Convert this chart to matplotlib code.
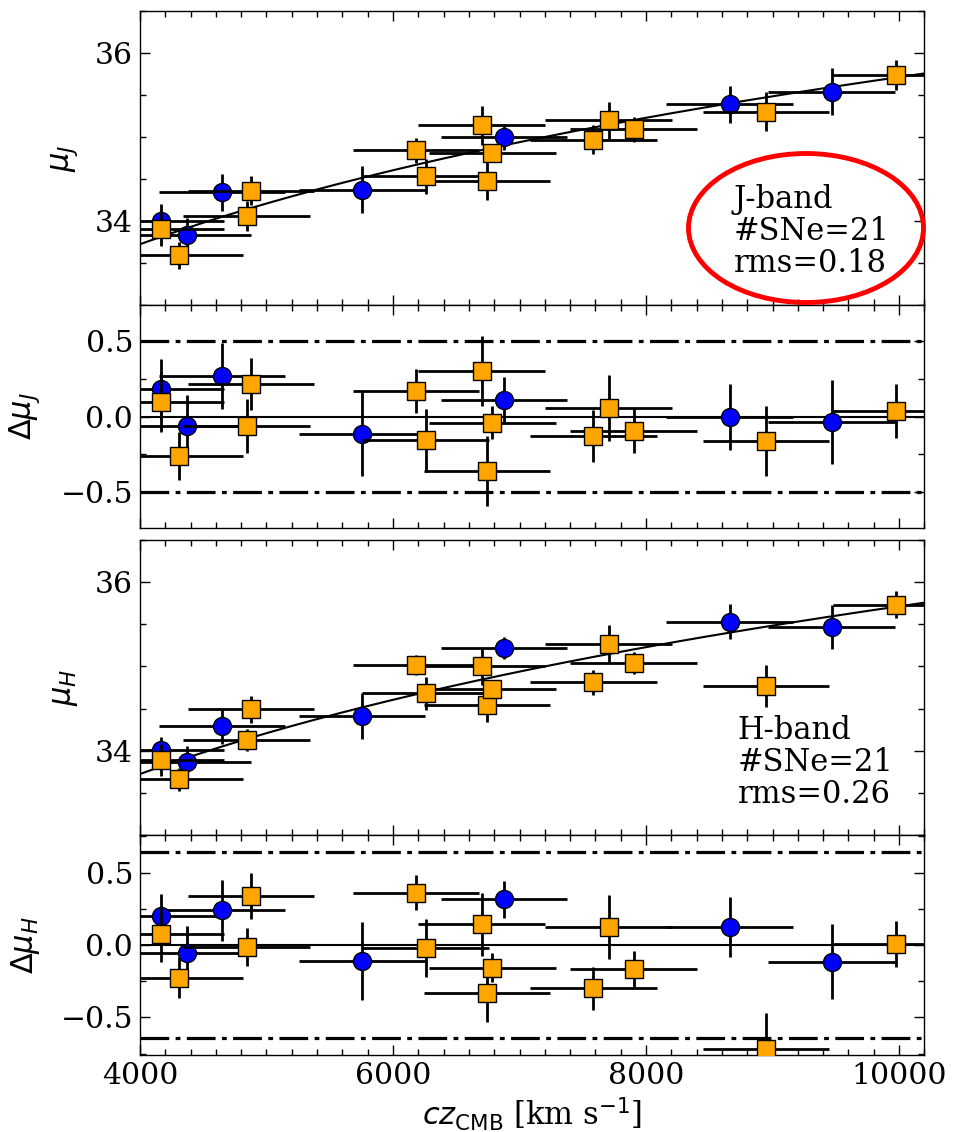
import numpy as np
import matplotlib
matplotlib.use('Agg')
import matplotlib.pyplot as plt
from matplotlib.patches import Ellipse
from matplotlib.ticker import MultipleLocator

# --- data ---
# group 1 (blue circles)
cz_blue = [4166, 4374, 4648, 5755, 6877, 8662, 9468]
muJ_blue = [34.00, 33.83, 34.34, 34.37, 35.00, 35.39, 35.54]
dJ_blue = [0.18, -0.066, 0.27, -0.118, 0.112, -0.004, -0.037]
eJ_blue = [0.20, 0.21, 0.22, 0.28, 0.15, 0.22, 0.28]
muH_blue = [34.01, 33.87, 34.29, 34.41, 35.22, 35.53, 35.47]
dH_blue = [0.20, -0.057, 0.239, -0.11, 0.315, 0.124, -0.115]
eH_blue = [0.15, 0.19, 0.21, 0.27, 0.13, 0.21, 0.26]

# group 2 (orange squares)
cz_orange = [4166, 4311, 4843, 4877, 6182, 6258, 6701, 6743, 6785, 7584, 7705, 7903, 8949, 9976]
muJ_orange = [33.90, 33.59, 34.06, 34.36, 34.84, 34.53, 35.14, 34.48, 34.81, 34.97, 35.20, 35.09, 35.30, 35.74]
dJ_orange = [0.094, -0.263, -0.061, 0.215, 0.171, -0.158, 0.303, -0.362, -0.04, -0.129, 0.055, -0.094, -0.162, 0.039]
eJ_orange = [0.20, 0.16, 0.18, 0.17, 0.145, 0.21, 0.23, 0.23, 0.11, 0.175, 0.22, 0.15, 0.23, 0.18]
muH_orange = [33.89, 33.66, 34.13, 34.49, 35.02, 34.68, 35.00, 34.54, 34.73, 34.81, 35.27, 35.04, 34.77, 35.73]
dH_orange = [0.074, -0.225, -0.014, 0.338, 0.361, -0.018, 0.142, -0.329, -0.156, -0.299, 0.124, -0.168, -0.72, 0.005]
eH_orange = [0.19, 0.14, 0.13, 0.16, 0.12, 0.20, 0.22, 0.20, 0.10, 0.15, 0.22, 0.13, 0.25, 0.16]

xerr_blue = [500] * len(cz_blue)
xerr_orange = [500] * len(cz_orange)

H0 = 72.0  # Hubble-law model line
cut_J = 0.5
cut_H = 0.64

plt.rcParams['font.family'] = 'serif'
plt.rcParams['font.serif'] = ['DejaVu Serif']
plt.rcParams['mathtext.fontset'] = 'dejavusans'
plt.rcParams['font.size'] = 21

fig = plt.figure(figsize=(9.55, 11.32), dpi=100)
W, H = 955.0, 1132.0
left = 140 / W
width = 784.3 / W

def px_axes(top, bottom):
    return fig.add_axes([left, 1 - bottom / H, width, (bottom - top) / H])

ax1 = px_axes(11, 305)
ax2 = px_axes(305, 528)
ax3 = px_axes(540, 835)
ax4 = px_axes(835, 1055)

cz_model = np.linspace(3900, 10300, 300)
mu_model = 5 * np.log10(cz_model / H0) + 25

err_kw = dict(ecolor='k', elinewidth=2.0, capsize=0, mec='k', mew=1.0, ms=13, ls='none')

def draw_points(ax, yb, eb, yo, eo):
    ax.errorbar(cz_blue, yb, xerr=xerr_blue, yerr=eb, marker='o', mfc='blue', zorder=3, **err_kw)
    ax.errorbar(cz_orange, yo, xerr=xerr_orange, yerr=eo, marker='s', mfc='orange', zorder=4, **err_kw)

# mu panels
for ax, yb, eb, yo, eo in [(ax1, muJ_blue, eJ_blue, muJ_orange, eJ_orange),
                           (ax3, muH_blue, eH_blue, muH_orange, eH_orange)]:
    ax.plot(cz_model, mu_model, color='k', lw=1.5, zorder=2)
    draw_points(ax, yb, eb, yo, eo)
    ax.set_ylim(33.0, 36.5)
    ax.yaxis.set_major_locator(MultipleLocator(2))
    ax.yaxis.set_minor_locator(MultipleLocator(0.5))

# residual panels
for ax, yb, eb, yo, eo, cut, ylim in [(ax2, dJ_blue, eJ_blue, dJ_orange, eJ_orange, cut_J, 0.74),
                                      (ax4, dH_blue, eH_blue, dH_orange, eH_orange, cut_H, 0.76)]:
    ax.axhline(0, color='k', lw=1.5, zorder=2)
    for c in (cut, -cut):
        ax.axhline(c, color='k', lw=2.3, ls=(0, (9, 2, 1.5, 2)), zorder=2)
    draw_points(ax, yb, eb, yo, eo)
    ax.set_ylim(-ylim, ylim)
    ax.yaxis.set_major_locator(MultipleLocator(0.5))
    ax.yaxis.set_minor_locator(MultipleLocator(0.25))

for ax in (ax1, ax2, ax3, ax4):
    ax.set_xlim(4000, 10200)
    ax.xaxis.set_major_locator(MultipleLocator(2000))
    ax.xaxis.set_minor_locator(MultipleLocator(200))
    ax.tick_params(which='both', direction='in', top=True, right=True, width=1.0)
    ax.tick_params(which='major', length=7, labelsize=21.5, pad=5)
    ax.tick_params(which='minor', length=4)
    for s in ax.spines.values():
        s.set_linewidth(1.0)
    if ax is not ax4:
        ax.tick_params(labelbottom=False)

ax1.set_ylabel(r'$\mu_J$', fontsize=22)
ax2.set_ylabel(r'$\Delta\mu_J$', fontsize=22)
ax3.set_ylabel(r'$\mu_H$', fontsize=22)
ax4.set_ylabel(r'$\Delta\mu_H$', fontsize=22)
ax1.yaxis.set_label_coords(-0.077, 0.5)
ax3.yaxis.set_label_coords(-0.077, 0.5)
ax2.yaxis.set_label_coords(-0.125, 0.5)
ax4.yaxis.set_label_coords(-0.125, 0.5)
ax4.set_xlabel(r'$cz_{\rm CMB}$ [km s$^{-1}$]', fontsize=22, labelpad=4)

# band info
ax1.text(0.757, 0.25, 'J-band\n#SNe=21\nrms=0.18', transform=ax1.transAxes,
         ha='left', va='center', fontsize=22, linespacing=1.05)
ax3.text(0.762, 0.245, 'H-band\n#SNe=21\nrms=0.26', transform=ax3.transAxes,
         ha='left', va='center', fontsize=22, linespacing=1.05)

# red highlight ring
ring = Ellipse((806 / W, 1 - 228 / H), 235 / W, 149 / H, transform=fig.transFigure,
               fill=False, ec='red', lw=3.5, clip_on=False, zorder=10)
fig.patches.append(ring)

fig.savefig('out.png', dpi=100)
